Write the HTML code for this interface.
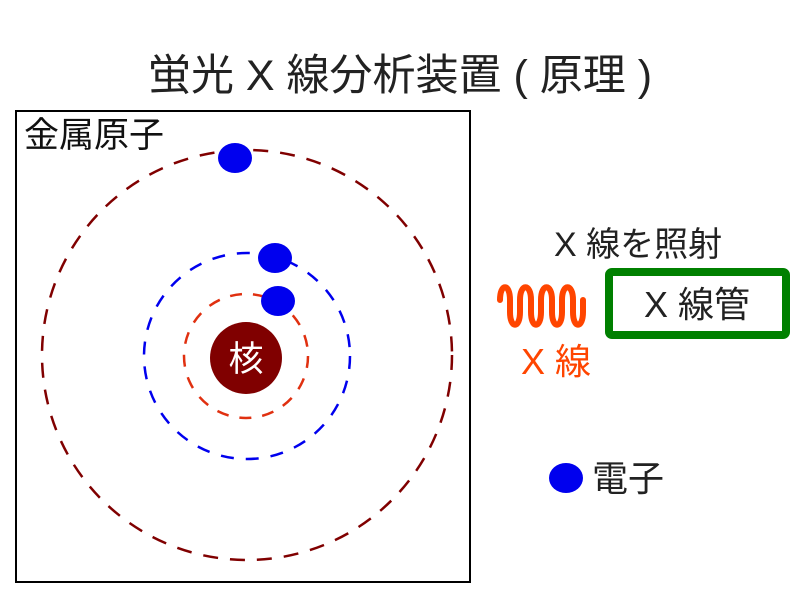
<!DOCTYPE html>
<html><head><meta charset="utf-8"><style>
body{margin:0;background:#fff;}
svg text{font-family:"Liberation Sans","Noto Sans CJK JP",sans-serif;}
</style></head><body>
<svg width="800" height="600" viewBox="0 0 800 600" xmlns="http://www.w3.org/2000/svg">
<text x="400" y="90" font-size="43" text-anchor="middle" fill="#222">蛍光 X 線分析装置 ( 原理 )</text>
<rect x="16" y="111" width="454" height="471" fill="none" stroke="#000" stroke-width="2"/>
<text x="24" y="147" font-size="35" fill="#111">金属原子</text>
<circle cx="247" cy="355" r="205" fill="none" stroke="#800000" stroke-width="2.5" stroke-dasharray="15 12"/>
<circle cx="247" cy="356" r="103" fill="none" stroke="#0000ee" stroke-width="2.5" stroke-dasharray="13 12"/>
<circle cx="246" cy="356" r="62" fill="none" stroke="#e03010" stroke-width="2.5" stroke-dasharray="12 11"/>
<circle cx="246" cy="358" r="36" fill="#800000"/>
<text x="246" y="371" font-size="35" fill="#fff" text-anchor="middle">核</text>
<ellipse cx="235" cy="158" rx="17" ry="15" fill="#0000ee"/>
<ellipse cx="275" cy="258" rx="17" ry="15" fill="#0000ee"/>
<ellipse cx="278" cy="301" rx="17" ry="15" fill="#0000ee"/>
<text x="554" y="256" font-size="34" fill="#222">X 線を照射</text>
<path d="M500 300 C500 283 510 283 510 300 L510 312 C510 329 520 329 520 312 L520 300 C520 283 531 283 531 300 L531 312 C531 329 541 329 541 312 L541 300 C541 283 552 283 552 300 L552 312 C552 329 562 329 562 312 L562 300 C562 283 573 283 573 300 L573 312 C573 329 583 329 583 312 L583 300" fill="none" stroke="#ff4500" stroke-width="6" stroke-linecap="round"/>
<text x="521" y="374" font-size="36" fill="#ff4500">X 線</text>
<rect x="609" y="272" width="177" height="63" rx="3" fill="none" stroke="#008000" stroke-width="8"/>
<text x="697" y="317" font-size="36" fill="#222" text-anchor="middle">X 線管</text>
<ellipse cx="566" cy="478" rx="17" ry="15" fill="#0000ee"/>
<text x="592" y="491" font-size="36" fill="#222">電子</text>
</svg>
</body></html>
